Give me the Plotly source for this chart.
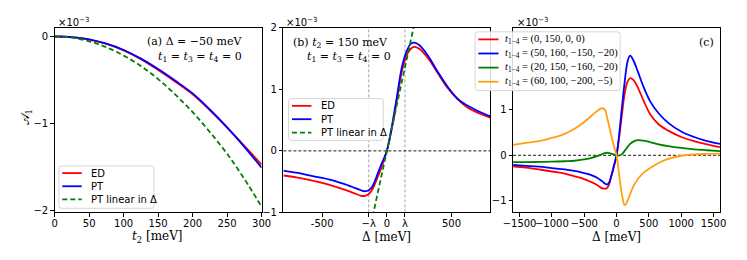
import plotly.graph_objects as go

# ---------------- data ----------------
# panel (a): A1 (x1e-3) vs t2 [meV]
a_t2 = [0, 25, 50, 75, 100, 125, 150, 175, 200, 225, 250, 275, 300]
a_ed = [0, -0.008, -0.035, -0.085, -0.16, -0.26, -0.385, -0.52, -0.665, -0.85, -1.05, -1.26, -1.475]
a_pt = [0, -0.008, -0.034, -0.083, -0.155, -0.255, -0.375, -0.51, -0.655, -0.84, -1.045, -1.27, -1.51]
a_lin = [0, -0.013, -0.055, -0.123, -0.22, -0.34, -0.49, -0.67, -0.87, -1.10, -1.35, -1.64, -1.96]

# panel (b): A1 (x1e-3) vs Delta [meV]
b_delta = [-800, -700, -600, -500, -400, -300, -250, -200, -170, -140, -110, -80, -45, 0,
           42, 80, 117, 155, 185, 212, 250, 317, 392, 467, 546, 620, 692, 800]
b_ed = [-0.40, -0.43, -0.47, -0.52, -0.58, -0.65, -0.69, -0.73, -0.73, -0.70, -0.62, -0.47, -0.29, 0.0,
        0.40, 0.85, 1.30, 1.56, 1.66, 1.69, 1.66, 1.51, 1.27, 1.03, 0.84, 0.71, 0.63, 0.54]
b_pt = [-0.32, -0.355, -0.40, -0.44, -0.49, -0.56, -0.60, -0.64, -0.656, -0.64, -0.57, -0.42, -0.23, 0.0,
        0.44, 0.91, 1.37, 1.63, 1.74, 1.76, 1.72, 1.55, 1.29, 1.05, 0.85, 0.74, 0.66, 0.56]
b_lin_delta = [-110, 0, 210]
b_lin = [-1.067, 0.0, 2.037]
lam_marks = [-140, 140]

# panel (c): A1 (x1e-3) vs Delta [meV] for four hopping sets
c_delta = [-1600, -1400, -1200, -1000, -800, -650, -500, -400, -300, -230, -180, -150, -120, -80, -40, 0,
           40, 80, 127, 170, 210, 260, 330, 420, 520, 650, 800, 1000, 1200, 1400, 1600]
c_red = [-0.24, -0.27, -0.31, -0.355, -0.40, -0.46, -0.52, -0.58, -0.65, -0.72, -0.73, -0.72, -0.66, -0.45, -0.25, 0.0,
         0.38, 0.85, 1.36, 1.61, 1.69, 1.65, 1.48, 1.19, 0.90, 0.68, 0.54, 0.40, 0.31, 0.24, 0.18]
c_blue = [-0.21, -0.23, -0.25, -0.28, -0.31, -0.34, -0.39, -0.43, -0.49, -0.56, -0.62, -0.64, -0.61, -0.45, -0.22, 0.0,
          0.45, 1.0, 1.62, 2.05, 2.18, 2.08, 1.83, 1.49, 1.18, 0.92, 0.71, 0.52, 0.40, 0.31, 0.25]
c_green = [-0.15, -0.15, -0.145, -0.14, -0.13, -0.12, -0.09, -0.06, -0.02, 0.02, 0.05, 0.056, 0.05, 0.035, 0.015, 0.0,
           -0.005, 0.02, 0.10, 0.18, 0.25, 0.30, 0.33, 0.32, 0.29, 0.24, 0.20, 0.16, 0.13, 0.11, 0.09]
c_orange = [0.23, 0.27, 0.31, 0.38, 0.47, 0.58, 0.73, 0.85, 0.97, 1.03, 1.0, 0.85, 0.68, 0.42, 0.2, 0.0,
            -0.42, -0.83, -1.09, -1.0, -0.85, -0.68, -0.52, -0.38, -0.28, -0.17, -0.08, -0.01, 0.02, 0.03, 0.035]
c_names = ["(0, 150, 0, 0)", "(50, 160, −150, −20)", "(20, 150, −160, −20)", "(60, 100, −200, −5)"]

ab_names = ["ED", "PT", "PT linear in Δ"]

a_xticks = [0, 50, 100, 150, 200, 250, 300]
a_yticks = [0, -1, -2]
b_xticks = [-500, -140, 0, 140, 500]
b_xticktext = ["-500", "−λ", "0", "λ", "500"]
b_yticks = [-1, 0, 1, 2]
c_xticks = [-1500, -1000, -500, 0, 500, 1000, 1500]
c_yticks = [-1, 0, 1]  # the "2" tick sits under the legend box in the reference

# ---------------- figure ----------------
W, H = 747, 260
OFF = 8  # the page body margin shifts the figure by 8 px right and down
RED, BLUE, GREEN, ORANGE = "#ff0000", "#0000ff", "#008000", "#ffa010"
SANS = "DejaVu Sans"
SERIF = "DejaVu Serif"
MATH = "Liberation Serif"
DASH = "5px,3px"


def px(x):
    return (x - OFF) / W


def py(y):
    return 1 - (y - OFF) / H


fig = go.Figure()
lw = 1.8
sp = dict(shape="spline", smoothing=1.0)

fig.add_trace(go.Scatter(x=a_t2, y=a_ed, mode="lines", name=ab_names[0], line=dict(color=RED, width=lw, **sp),
                         xaxis="x", yaxis="y"))
fig.add_trace(go.Scatter(x=a_t2, y=a_pt, mode="lines", name=ab_names[1], line=dict(color=BLUE, width=lw, **sp),
                         xaxis="x", yaxis="y"))
fig.add_trace(go.Scatter(x=a_t2, y=a_lin, mode="lines", name=ab_names[2],
                         line=dict(color=GREEN, width=lw, dash=DASH, **sp), xaxis="x", yaxis="y"))

fig.add_trace(go.Scatter(x=b_delta, y=b_ed, mode="lines", name=ab_names[0], line=dict(color=RED, width=lw, **sp),
                         xaxis="x2", yaxis="y2"))
fig.add_trace(go.Scatter(x=b_delta, y=b_pt, mode="lines", name=ab_names[1], line=dict(color=BLUE, width=lw, **sp),
                         xaxis="x2", yaxis="y2"))
fig.add_trace(go.Scatter(x=b_lin_delta, y=b_lin, mode="lines", name=ab_names[2],
                         line=dict(color=GREEN, width=lw, dash=DASH), xaxis="x2", yaxis="y2"))

c_cols = [RED, BLUE, GREEN, ORANGE]
for ys, col, nm in zip([c_red, c_blue, c_green, c_orange], c_cols, c_names):
    fig.add_trace(go.Scatter(x=c_delta, y=ys, mode="lines",
                             name="<i>t</i><sub>1−4</sub> = " + nm,
                             line=dict(color=col, width=lw, **sp), xaxis="x3", yaxis="y3"))

# reference lines
for lam in lam_marks:
    fig.add_shape(type="line", xref="x2", yref="y2 domain", x0=lam, x1=lam, y0=0, y1=1,
                  line=dict(color="#999999", width=0.9, dash="3px,2px"), layer="below")
for xr, yr in [("x2 domain", "y2"), ("x3 domain", "y3")]:
    fig.add_shape(type="line", xref=xr, yref=yr, x0=0, x1=1, y0=0, y1=0,
                  line=dict(color="black", width=0.9, dash="3px,2px"), layer="below")

ydom = [py(216), py(22.5)]
common_ax = dict(showline=True, linecolor="black", linewidth=1, mirror=True, ticks="outside",
                 ticklen=3.5, tickwidth=0.9, tickcolor="black", showgrid=False, zeroline=False,
                 tickangle=0, tickfont=dict(family=SANS, size=10, color="black"))
x_ax = dict(common_ax, ticklabelstandoff=-2)

fig.update_layout(
    width=W, height=H, margin=dict(l=0, r=0, t=0, b=0),
    paper_bgcolor="white", plot_bgcolor="white", showlegend=False,
    xaxis=dict(domain=[px(45.7), px(258.3)], range=[0, 300], tickvals=a_xticks, anchor="y", **x_ax),
    yaxis=dict(domain=ydom, range=[-2.025, 0.1], tickvals=a_yticks, anchor="x", **common_ax),
    xaxis2=dict(domain=[px(280.7), px(493.3)], range=[-800, 800], tickvals=b_xticks, ticktext=b_xticktext,
                anchor="y2", **x_ax),
    yaxis2=dict(domain=ydom, range=[-1, 2], tickvals=b_yticks, anchor="x2", **common_ax),
    xaxis3=dict(domain=[px(516.7), px(729.3)], range=[-1600, 1600], tickvals=c_xticks, anchor="y3", **x_ax),
    yaxis3=dict(domain=ydom, range=[-1.25, 2.79], tickvals=c_yticks, anchor="x3", **common_ax),
)


def ann(text, x, y, size=11, family=SERIF, xanchor="center", yanchor="middle", angle=0):
    fig.add_annotation(text=text, x=px(x), y=py(y), xref="paper", yref="paper", showarrow=False,
                       xanchor=xanchor, yanchor=yanchor, textangle=angle,
                       font=dict(family=family, size=size, color="black"))


def rounded_box(x0, y0, x1, y1, r=3):
    X0, X1 = px(x0), px(x1)
    Y0, Y1 = py(y0), py(y1)
    rx, ry = r / W, r / H
    path = (f"M {X0 + rx},{Y0} L {X1 - rx},{Y0} Q {X1},{Y0} {X1},{Y0 - ry} "
            f"L {X1},{Y1 + ry} Q {X1},{Y1} {X1 - rx},{Y1} "
            f"L {X0 + rx},{Y1} Q {X0},{Y1} {X0},{Y1 + ry} "
            f"L {X0},{Y0 - ry} Q {X0},{Y0} {X0 + rx},{Y0} Z")
    fig.add_shape(type="path", path=path, xref="paper", yref="paper", layer="above",
                  fillcolor="rgba(255,255,255,0.85)", line=dict(color="#d6d6d6", width=1))


def legend(box, rows, line_x, text_x, names, colors, dashes, family, size):
    rounded_box(*box)
    for yy, nm, col, ds in zip(rows, names, colors, dashes):
        fig.add_shape(type="line", xref="paper", yref="paper", x0=px(line_x[0]), x1=px(line_x[1]),
                      y0=py(yy), y1=py(yy), layer="above",
                      line=dict(color=col, width=lw, dash=ds))
        ann(nm, text_x, yy, size=size, family=family, xanchor="left")


# legends
legend((50, 167.3, 147.7, 211.7), [174.8, 188.6, 202.4], (53.5, 73.5), 80.5,
       ab_names, [RED, BLUE, GREEN], ["solid", "solid", DASH], SANS, 10)
legend((286, 96.7, 383.3, 140.5), [104.3, 118.3, 132.3], (289.5, 309.5), 317,
       ab_names, [RED, BLUE, GREEN], ["solid", "solid", DASH], SANS, 10)
legend((477.7, 26.7, 626.7, 88.3), [34.6, 49.4, 64.2, 79.0], (481, 501.7), 506.5,
       ["<i>t</i><sub>1−4</sub> = " + n for n in c_names], c_cols, ["solid"] * 4, MATH, 10.5)

# multiplier labels
for x0 in [46.7, 281.7, 518.3]:
    ann("×10<sup>−3</sup>", x0, 16, size=10, family=SANS, xanchor="left")

# panel texts
ann("(a) Δ = −50 meV", 240, 36.7, xanchor="right")
ann("<i>t</i><sub>1</sub> = <i>t</i><sub>3</sub> = <i>t</i><sub>4</sub> = 0", 240, 53.3, xanchor="right")
ann("(b) <i>t</i><sub>2</sub> = 150 meV", 288.3, 38.3, xanchor="left")
ann("<i>t</i><sub>1</sub> = <i>t</i><sub>3</sub> = <i>t</i><sub>4</sub> = 0", 303.3, 53.3, xanchor="left")
ann("(c)", 715, 38.3)

# axis titles
ann("<i>t</i><sub>2</sub> [meV]", 151.7, 242, size=12)
ann("Δ [meV]", 386.7, 242, size=12)
ann("Δ [meV]", 623.3, 242, size=12)
ann("𝒜<sub>1</sub>", 16, 116.7, size=12, angle=-90)

fig.write_html("out.html")
